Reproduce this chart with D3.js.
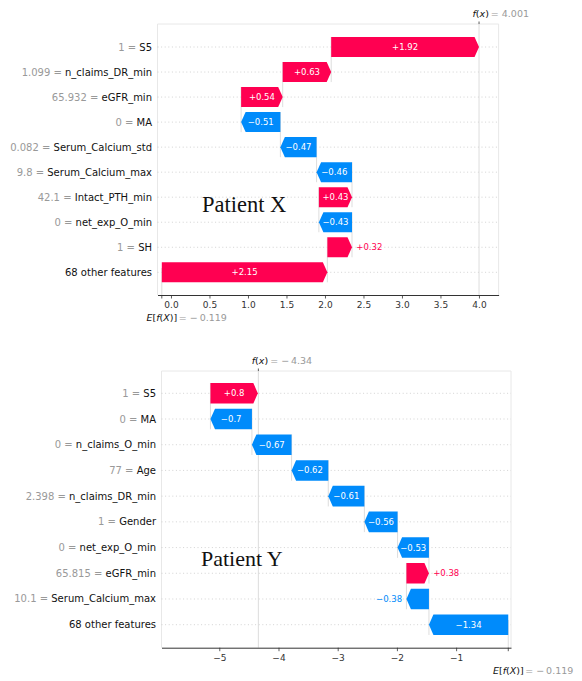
<!DOCTYPE html>
<html><head><meta charset="utf-8">
<script src="https://cdn.jsdelivr.net/npm/d3@7"></script>
<style>body{margin:0;background:#fff} svg{display:block;background:#fff}</style>
</head><body>
<svg id="c" width="582" height="681"></svg>
<script>
// ---- Patient X ----
const featuresX = ["S5","n_claims_DR_min","eGFR_min","MA","Serum_Calcium_std","Serum_Calcium_max","Intact_PTH_min","net_exp_O_min","SH","68 other features"];
const valuesX = ["1","1.099","65.932","0","0.082","9.8","42.1","0","1",""];
const shapX = [1.92,0.63,0.54,-0.51,-0.47,-0.46,0.43,-0.43,0.32,2.15];
const baseX = -0.119;
const fxX = 4.001;
const fxLabelX = "4.001";
const ticksX = [0,0.5,1.0,1.5,2.0,2.5,3.0,3.5,4.0];
const tickLabelsX = ["0.0","0.5","1.0","1.5","2.0","2.5","3.0","3.5","4.0"];

// ---- Patient Y ----
const featuresY = ["S5","MA","n_claims_O_min","Age","n_claims_DR_min","Gender","net_exp_O_min","eGFR_min","Serum_Calcium_max","68 other features"];
const valuesY = ["1","0","0","77","2.398","1","0","65.815","10.1",""];
const shapY = [0.8,-0.7,-0.67,-0.62,-0.61,-0.56,-0.53,0.38,-0.38,-1.34];
const baseY = -0.119;
const fxY = -4.34;
const fxLabelY = "\u2212\u20094.34";
const ticksY = [-5,-4,-3,-2,-1];
const tickLabelsY = ["\u22125","\u22124","\u22123","\u22122","\u22121"];
const baseLabel = "\u2212\u20090.119";

const RED = "#ff0051", BLUE = "#008bfb";
const FONT = "DejaVu Sans, sans-serif";

function fmtSigned(v){
  let s = Math.abs(v).toFixed(2).replace(/0+$/,"").replace(/\.$/,"");
  return (v >= 0 ? "+" : "\u2212") + s;
}

const svg = d3.select("#c");
svg.append("rect").attr("width",582).attr("height",681).attr("fill","#fff");

function waterfall(opt){
  const {features, values, shap, base, fx, fxLabel, ticks, tickLabels, xDomain, xRange, yRange, frameTop, axisY, title, titleX, titleY, titleSize} = opt;
  const x = d3.scaleLinear().domain(xDomain).range(xRange);
  const n = features.length;
  const y = d3.scalePoint().domain(d3.range(n)).range(yRange);
  const step = (yRange[1]-yRange[0])/(n-1);
  const bh = step*0.8;
  const starts = new Array(n), ends = new Array(n);
  let c = base;
  for (let i = n-1; i >= 0; i--) { starts[i] = c; c += shap[i]; ends[i] = c; }
  const L = xRange[0], R = xRange[1];
  const g = svg.append("g");

  // frame
  g.append("path").attr("d", `M${L},${axisY}V${frameTop}H${R}V${axisY}`)
    .attr("fill","none").attr("stroke","#e8e8e8").attr("stroke-width",1);

  // dotted row lines
  g.append("g").selectAll("line").data(d3.range(n)).join("line")
    .attr("x1",L).attr("x2",R).attr("y1",i=>y(i)).attr("y2",i=>y(i))
    .attr("stroke","#c8c8c8").attr("stroke-width",0.8).attr("stroke-dasharray","1,2.6");

  // connector lines
  g.append("g").selectAll("line").data(d3.range(n-1)).join("line")
    .attr("x1",i=>x(starts[i])).attr("x2",i=>x(starts[i]))
    .attr("y1",i=>y(i)-bh/2).attr("y2",i=>y(i+1)+bh/2)
    .attr("stroke","#d4d4d4").attr("stroke-width",0.8);

  // base line (bottom fraction) and f(x) line (full height)
  const hgt = axisY - frameTop;
  g.append("line").attr("x1",x(base)).attr("x2",x(base)).attr("y1",axisY).attr("y2",axisY-hgt/n)
    .attr("stroke","#d4d4d4").attr("stroke-width",0.8);
  g.append("line").attr("x1",x(fx)).attr("x2",x(fx)).attr("y1",axisY).attr("y2",frameTop)
    .attr("stroke","#d4d4d4").attr("stroke-width",0.8);
  g.append("line").attr("x1",x(fx)).attr("x2",x(fx)).attr("y1",frameTop).attr("y2",frameTop-2.5)
    .attr("stroke","#333").attr("stroke-width",0.8);

  // bars
  const HL = 4.5;
  function arrowPath(i){
    const a = x(starts[i]), b = x(ends[i]), yc = y(i), h = bh/2;
    const dir = b >= a ? 1 : -1;
    const hl = Math.min(HL, Math.abs(b-a));
    const bb = b - dir*hl;
    return `M${a},${yc-h}L${bb},${yc-h}L${b},${yc}L${bb},${yc+h}L${a},${yc+h}Z`;
  }
  g.append("g").selectAll("path").data(d3.range(n)).join("path")
    .attr("d", arrowPath)
    .attr("fill", i => shap[i] >= 0 ? RED : BLUE);

  // bar labels
  const lg = g.append("g");
  d3.range(n).forEach(i => {
    const a = x(starts[i]), b = x(ends[i]);
    const t = lg.append("text").text(fmtSigned(shap[i]))
      .attr("font-family",FONT).attr("font-size",8.5)
      .attr("x",(a+b)/2).attr("y",y(i)).attr("dy","0.35em")
      .attr("text-anchor","middle").attr("fill","#fff");
    const w = t.node().getComputedTextLength();
    if (w > Math.abs(b-a)) {
      if (shap[i] >= 0) t.attr("x", b+4.3).attr("text-anchor","start").attr("fill",RED);
      else t.attr("x", b-4.3).attr("text-anchor","end").attr("fill",BLUE);
    }
  });

  // y labels
  const yl = g.append("g");
  d3.range(n).forEach(i => {
    const t = yl.append("text").attr("x",L-5.5).attr("y",y(i)).attr("dy","0.35em")
      .attr("text-anchor","end").attr("font-family",FONT).attr("font-size",10);
    if (values[i] !== "") t.append("tspan").attr("fill","#999").text(values[i] + " = ");
    t.append("tspan").attr("fill","#111").text(features[i]);
  });

  // x axis
  const ax = g.append("g").attr("transform",`translate(0,${axisY})`)
    .call(d3.axisBottom(x).tickValues(ticks).tickFormat((d,i)=>tickLabels[i]).tickSize(3.5).tickSizeOuter(0).tickPadding(3.5));
  ax.select(".domain").attr("stroke","#333").attr("stroke-width",1);
  ax.selectAll(".tick line").attr("stroke","#333").attr("stroke-width",0.8);
  ax.selectAll(".tick text").attr("font-family",FONT).attr("font-size",9).attr("fill","#333");
  g.append("line").attr("x1",x(base)).attr("x2",x(base)).attr("y1",axisY).attr("y2",axisY+3.5)
    .attr("stroke","#333").attr("stroke-width",0.8);

  // f(x) label
  const fxT = g.append("text").attr("x",x(fx)-6.6).attr("y",frameTop-10).attr("dy","0.35em")
    .attr("font-family",FONT).attr("font-size",9.5).attr("fill","#111");
  fxT.append("tspan").attr("font-style","italic").text("f");
  fxT.append("tspan").text("(");
  fxT.append("tspan").attr("font-style","italic").text("x");
  fxT.append("tspan").text(")");
  g.append("text").attr("x",x(fx)+11.8).attr("y",frameTop-10).attr("dy","0.35em")
    .attr("font-family",FONT).attr("font-size",9.5).attr("fill","#999").text("= " + fxLabel);

  // E[f(X)] label
  const eT = g.append("text").attr("x",x(base)-15.3).attr("y",axisY+22.5).attr("dy","0.35em")
    .attr("font-family",FONT).attr("font-size",9.5).attr("fill","#111");
  eT.append("tspan").attr("font-style","italic").text("E");
  eT.append("tspan").text("[");
  eT.append("tspan").attr("font-style","italic").text("f");
  eT.append("tspan").text("(");
  eT.append("tspan").attr("font-style","italic").text("X");
  eT.append("tspan").text(")]");
  g.append("text").attr("x",x(base)+17).attr("y",axisY+22.5).attr("dy","0.35em")
    .attr("font-family",FONT).attr("font-size",9.5).attr("fill","#999").text("= " + baseLabel);

  // title
  g.append("text").attr("x",titleX).attr("y",titleY)
    .attr("font-family","Liberation Serif, Times New Roman, serif").attr("font-size",titleSize)
    .attr("fill","#111").text(title);
}

waterfall({
  features: featuresX, values: valuesX, shap: shapX, base: baseX, fx: fxX, fxLabel: fxLabelX,
  ticks: ticksX, tickLabels: tickLabelsX,
  xDomain: [-0.175, 4.255], xRange: [157.5, 498.6],
  yRange: [47, 272.3], frameTop: 24, axisY: 295,
  title: "Patient X", titleX: 202, titleY: 212.3, titleSize: 22.5
});

waterfall({
  features: featuresY, values: valuesY, shap: shapY, base: baseY, fx: fxY, fxLabel: fxLabelY,
  ticks: ticksY, tickLabels: tickLabelsY,
  xDomain: [-5.976, -0.073], xRange: [161.5, 511],
  yRange: [393.3, 624.7], frameTop: 371, axisY: 647.7,
  title: "Patient Y", titleX: 201, titleY: 566, titleSize: 22
});
</script>
</body></html>
